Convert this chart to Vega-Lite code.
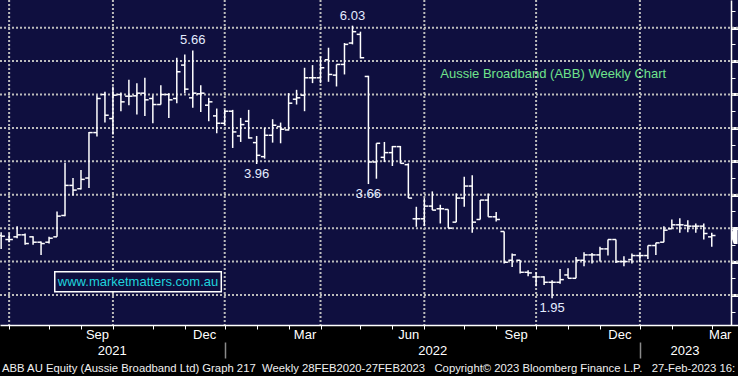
{
  "$schema": "https://vega.github.io/schema/vega-lite/v6.json",
  "width": 738,
  "height": 325,
  "autosize": {"type": "none"},
  "padding": {"left": 0, "top": 0, "right": 0, "bottom": 51},
  "background": "#000000",
  "title": {
    "text": "ABB AU Equity (Aussie Broadband Ltd) Graph 217\u00a0\u00a0Weekly 28FEB2020-27FEB2023\u00a0\u00a0\u00a0Copyright\u00a9 2023 Bloomberg Finance L.P.\u00a0\u00a0\u00a027-Feb-2023 16:",
    "orient": "bottom", "anchor": "start", "frame": "group", "offset": 4, "dx": 2,
    "font": "Liberation Sans", "fontSize": 11.3, "fontWeight": "normal", "color": "#f0f0f0"
  },
  "datasets": {
    "ohlc": [
      {"d":"2021-06-25","o":2.89,"h":2.94,"l":2.69,"c":2.88},
      {"d":"2021-07-02","o":2.83,"h":2.92,"l":2.79,"c":2.83},
      {"d":"2021-07-09","o":2.87,"h":3.03,"l":2.85,"c":2.90},
      {"d":"2021-07-16","o":2.90,"h":2.92,"l":2.75,"c":2.77},
      {"d":"2021-07-23","o":2.87,"h":2.88,"l":2.75,"c":2.79},
      {"d":"2021-07-30","o":2.79,"h":2.80,"l":2.60,"c":2.77},
      {"d":"2021-08-06","o":2.79,"h":2.87,"l":2.77,"c":2.85},
      {"d":"2021-08-13","o":2.87,"h":3.25,"l":2.87,"c":3.18},
      {"d":"2021-08-20","o":3.19,"h":3.98,"l":3.18,"c":3.64},
      {"d":"2021-08-27","o":3.64,"h":3.75,"l":3.49,"c":3.57},
      {"d":"2021-09-03","o":3.59,"h":3.87,"l":3.58,"c":3.73},
      {"d":"2021-09-10","o":3.75,"h":4.44,"l":3.60,"c":4.43},
      {"d":"2021-09-17","o":4.43,"h":4.99,"l":4.37,"c":4.94},
      {"d":"2021-09-24","o":5.00,"h":5.04,"l":4.58,"c":4.69},
      {"d":"2021-10-01","o":4.64,"h":5.12,"l":4.40,"c":4.99},
      {"d":"2021-10-08","o":5.00,"h":5.03,"l":4.75,"c":4.89},
      {"d":"2021-10-15","o":4.975,"h":5.22,"l":4.84,"c":4.975},
      {"d":"2021-10-22","o":4.98,"h":5.17,"l":4.70,"c":5.02},
      {"d":"2021-10-29","o":5.02,"h":5.25,"l":4.68,"c":4.92},
      {"d":"2021-11-05","o":4.94,"h":4.99,"l":4.57,"c":4.85},
      {"d":"2021-11-12","o":4.85,"h":5.14,"l":4.85,"c":5.00},
      {"d":"2021-11-19","o":5.00,"h":5.02,"l":4.65,"c":4.92},
      {"d":"2021-11-26","o":4.94,"h":5.55,"l":4.87,"c":5.34},
      {"d":"2021-12-03","o":5.44,"h":5.60,"l":5.02,"c":5.08},
      {"d":"2021-12-10","o":4.95,"h":5.66,"l":4.80,"c":5.02},
      {"d":"2021-12-17","o":5.01,"h":5.14,"l":4.74,"c":5.02},
      {"d":"2021-12-24","o":4.84,"h":4.95,"l":4.60,"c":4.89},
      {"d":"2021-12-31","o":4.68,"h":4.79,"l":4.42,"c":4.57},
      {"d":"2022-01-07","o":4.57,"h":4.77,"l":4.54,"c":4.75},
      {"d":"2022-01-14","o":4.75,"h":4.77,"l":4.20,"c":4.44},
      {"d":"2022-01-21","o":4.38,"h":4.65,"l":4.29,"c":4.55},
      {"d":"2022-01-28","o":4.60,"h":4.77,"l":4.34,"c":4.35},
      {"d":"2022-02-04","o":4.28,"h":4.38,"l":3.96,"c":4.09},
      {"d":"2022-02-11","o":4.07,"h":4.50,"l":4.04,"c":4.39},
      {"d":"2022-02-18","o":4.39,"h":4.63,"l":4.28,"c":4.54},
      {"d":"2022-02-25","o":4.52,"h":4.58,"l":4.27,"c":4.48},
      {"d":"2022-03-04","o":4.47,"h":5.02,"l":4.46,"c":4.87},
      {"d":"2022-03-11","o":4.93,"h":5.07,"l":4.85,"c":4.95},
      {"d":"2022-03-18","o":4.99,"h":5.40,"l":4.75,"c":5.25},
      {"d":"2022-03-25","o":5.25,"h":5.44,"l":5.17,"c":5.25},
      {"d":"2022-04-01","o":5.25,"h":5.57,"l":5.17,"c":5.40},
      {"d":"2022-04-08","o":5.52,"h":5.70,"l":5.19,"c":5.30},
      {"d":"2022-04-15","o":5.29,"h":5.45,"l":5.12,"c":5.45},
      {"d":"2022-04-22","o":5.45,"h":5.77,"l":5.30,"c":5.75},
      {"d":"2022-04-29","o":5.77,"h":6.03,"l":5.75,"c":5.94},
      {"d":"2022-05-06","o":5.90,"h":5.94,"l":5.54,"c":5.55},
      {"d":"2022-05-13","o":5.27,"h":5.28,"l":3.66,"c":3.99},
      {"d":"2022-05-20","o":3.99,"h":4.27,"l":3.74,"c":4.27},
      {"d":"2022-05-27","o":4.06,"h":4.29,"l":3.99,"c":4.13},
      {"d":"2022-06-03","o":4.13,"h":4.23,"l":3.93,"c":4.22},
      {"d":"2022-06-10","o":4.22,"h":4.23,"l":3.97,"c":3.97},
      {"d":"2022-06-17","o":3.95,"h":3.97,"l":3.45,"c":3.45},
      {"d":"2022-06-24","o":3.14,"h":3.32,"l":3.02,"c":3.14},
      {"d":"2022-07-01","o":3.14,"h":3.45,"l":3.03,"c":3.33},
      {"d":"2022-07-08","o":3.33,"h":3.55,"l":3.27,"c":3.27},
      {"d":"2022-07-15","o":3.29,"h":3.35,"l":3.07,"c":3.29},
      {"d":"2022-07-22","o":3.28,"h":3.28,"l":3.00,"c":3.00},
      {"d":"2022-07-29","o":3.09,"h":3.52,"l":3.09,"c":3.45},
      {"d":"2022-08-05","o":3.45,"h":3.77,"l":3.32,"c":3.63},
      {"d":"2022-08-12","o":3.63,"h":3.79,"l":2.93,"c":3.09},
      {"d":"2022-08-19","o":3.13,"h":3.42,"l":3.13,"c":3.42},
      {"d":"2022-08-26","o":3.42,"h":3.52,"l":3.17,"c":3.17},
      {"d":"2022-09-02","o":3.17,"h":3.24,"l":3.10,"c":3.13},
      {"d":"2022-09-09","o":2.95,"h":2.95,"l":2.47,"c":2.49},
      {"d":"2022-09-16","o":2.52,"h":2.62,"l":2.42,"c":2.60},
      {"d":"2022-09-23","o":2.52,"h":2.52,"l":2.32,"c":2.34},
      {"d":"2022-09-30","o":2.34,"h":2.37,"l":2.28,"c":2.33},
      {"d":"2022-10-07","o":2.27,"h":2.34,"l":2.13,"c":2.27},
      {"d":"2022-10-14","o":2.27,"h":2.28,"l":2.15,"c":2.19},
      {"d":"2022-10-21","o":2.19,"h":2.22,"l":1.95,"c":2.19},
      {"d":"2022-10-28","o":2.19,"h":2.39,"l":2.17,"c":2.23},
      {"d":"2022-11-04","o":2.30,"h":2.40,"l":2.25,"c":2.25},
      {"d":"2022-11-11","o":2.25,"h":2.57,"l":2.25,"c":2.52},
      {"d":"2022-11-18","o":2.52,"h":2.64,"l":2.43,"c":2.60},
      {"d":"2022-11-25","o":2.60,"h":2.63,"l":2.47,"c":2.60},
      {"d":"2022-12-02","o":2.60,"h":2.72,"l":2.50,"c":2.69},
      {"d":"2022-12-09","o":2.69,"h":2.83,"l":2.59,"c":2.83},
      {"d":"2022-12-16","o":2.83,"h":2.83,"l":2.48,"c":2.50},
      {"d":"2022-12-23","o":2.50,"h":2.58,"l":2.43,"c":2.50},
      {"d":"2022-12-30","o":2.53,"h":2.62,"l":2.47,"c":2.59},
      {"d":"2023-01-06","o":2.59,"h":2.63,"l":2.49,"c":2.59},
      {"d":"2023-01-13","o":2.59,"h":2.74,"l":2.54,"c":2.74},
      {"d":"2023-01-20","o":2.74,"h":2.78,"l":2.60,"c":2.78},
      {"d":"2023-01-27","o":2.79,"h":3.03,"l":2.79,"c":2.97},
      {"d":"2023-02-03","o":2.99,"h":3.13,"l":2.99,"c":3.05},
      {"d":"2023-02-10","o":3.05,"h":3.15,"l":2.93,"c":3.05},
      {"d":"2023-02-17","o":3.04,"h":3.12,"l":2.94,"c":3.03},
      {"d":"2023-02-24","o":3.03,"h":3.07,"l":2.93,"c":3.03},
      {"d":"2023-03-03","o":3.03,"h":3.07,"l":2.83,"c":2.92},
      {"d":"2023-03-10","o":2.87,"h":2.93,"l":2.72,"c":2.89}
    ]
  },
  "layer": [
    {
      "data": {"values": [{"g": 2}, {"g": 2.5}, {"g": 3}, {"g": 3.5}, {"g": 4}, {"g": 4.5}, {"g": 5}, {"g": 5.5}, {"g": 6}]},
      "mark": {"type": "rule", "color": "#bcbcbc", "strokeWidth": 2, "strokeDash": [2, 2]},
      "encoding": {
        "y": {
          "field": "g", "type": "quantitative",
          "scale": {"domain": [1.551, 6.414], "nice": false, "zero": false},
          "axis": null
        }
      }
    },
    {
      "data": {"values": [{"q": "2021-07-02"}, {"q": "2021-10-01"}, {"q": "2022-01-07"}, {"q": "2022-04-01"}, {"q": "2022-07-01"}, {"q": "2022-10-07"}, {"q": "2023-01-06"}]},
      "mark": {"type": "rule", "color": "#bcbcbc", "strokeWidth": 2, "strokeDash": [2, 2]},
      "encoding": {
        "x": {
          "field": "q", "type": "temporal",
          "scale": {"type": "utc", "domain": [{"year": 2021, "month": 6, "date": 24, "utc": true}, {"year": 2023, "month": 4, "date": 2, "utc": true}]},
          "axis": null
        }
      }
    },
    {
      "data": {"name": "ohlc"},
      "mark": {"type": "rule", "color": "#ffffff", "strokeWidth": 1.5},
      "encoding": {
        "x": {
          "field": "d", "type": "temporal",
          "axis": {
            "orient": "bottom",
            "values": [
              {"year": 2021, "month": 7, "date": 2, "utc": true},
              {"year": 2021, "month": 8, "date": 6, "utc": true},
              {"year": 2021, "month": 9, "date": 3, "utc": true},
              {"year": 2021, "month": 10, "date": 1, "utc": true},
              {"year": 2021, "month": 11, "date": 5, "utc": true},
              {"year": 2021, "month": 12, "date": 3, "utc": true},
              {"year": 2022, "month": 1, "date": 7, "utc": true},
              {"year": 2022, "month": 2, "date": 4, "utc": true},
              {"year": 2022, "month": 3, "date": 4, "utc": true},
              {"year": 2022, "month": 4, "date": 1, "utc": true},
              {"year": 2022, "month": 5, "date": 6, "utc": true},
              {"year": 2022, "month": 6, "date": 3, "utc": true},
              {"year": 2022, "month": 7, "date": 1, "utc": true},
              {"year": 2022, "month": 8, "date": 5, "utc": true},
              {"year": 2022, "month": 9, "date": 2, "utc": true},
              {"year": 2022, "month": 10, "date": 7, "utc": true},
              {"year": 2022, "month": 11, "date": 4, "utc": true},
              {"year": 2022, "month": 12, "date": 2, "utc": true},
              {"year": 2023, "month": 1, "date": 6, "utc": true},
              {"year": 2023, "month": 2, "date": 3, "utc": true},
              {"year": 2023, "month": 3, "date": 10, "utc": true}
            ],
            "labels": false, "grid": false, "ticks": true, "tickColor": "#ffffff", "tickSize": 4, "tickWidth": 1,
            "domain": true, "domainColor": "#ffffff", "domainWidth": 1.5, "title": null
          }
        },
        "y": {
          "field": "h", "type": "quantitative",
          "axis": {
            "orient": "right", "offset": -7, "values": [2, 2.5, 3, 3.5, 4, 4.5, 5, 5.5, 6],
            "labels": false, "grid": false,
            "ticks": true, "tickColor": "#ffffff", "tickSize": 7, "tickWidth": 3,
            "domain": true, "domainColor": "#ffffff", "domainWidth": 1.5, "title": null
          }
        },
        "y2": {"field": "l"}
      }
    },
    {
      "data": {"name": "ohlc"},
      "mark": {"type": "point", "shape": "M-1,0L0,0", "filled": false, "stroke": "#ffffff", "strokeWidth": 1.5, "size": 56, "opacity": 1},
      "encoding": {
        "x": {"field": "d", "type": "temporal", "axis": null},
        "y": {
          "field": "o", "type": "quantitative",
          "axis": {
            "orient": "right", "offset": -7, "values": [1.75, 2.25, 2.75, 3.25, 3.75, 4.25, 4.75, 5.25, 5.75, 6.25],
            "labels": false, "grid": false, "domain": false,
            "ticks": true, "tickColor": "#ffffff", "tickSize": 4, "tickWidth": 1, "title": null
          }
        }
      }
    },
    {
      "data": {"name": "ohlc"},
      "mark": {"type": "point", "shape": "M0,0L1,0", "filled": false, "stroke": "#ffffff", "strokeWidth": 1.5, "size": 56, "opacity": 1},
      "encoding": {
        "x": {
          "field": "d", "type": "temporal",
          "axis": {
            "orient": "bottom",
            "values": [
              {"year": 2021, "month": 9, "date": 17, "utc": true},
              {"year": 2021, "month": 12, "date": 20, "utc": true},
              {"year": 2022, "month": 3, "date": 18, "utc": true},
              {"year": 2022, "month": 6, "date": 17, "utc": true},
              {"year": 2022, "month": 9, "date": 19, "utc": true},
              {"year": 2022, "month": 12, "date": 19, "utc": true},
              {"year": 2023, "month": 3, "date": 17, "utc": true}
            ],
            "labelExpr": "utcFormat(datum.value, '%b')",
            "ticks": false, "domain": false, "grid": false,
            "labelColor": "#ffffff", "labelFont": "Liberation Sans", "labelFontSize": 13, "labelPadding": 3,
            "labelOverlap": false, "labelFlush": false, "labelBound": false, "title": null
          }
        },
        "y": {"field": "c", "type": "quantitative", "axis": null}
      }
    },
    {
      "data": {"values": [
        {"d": "2021-12-10", "v": 5.66, "t": "5.66"},
        {"d": "2022-04-29", "v": 6.03, "t": "6.03"}
      ]},
      "mark": {"type": "text", "color": "#e4ecff", "font": "Liberation Sans", "fontSize": 13, "align": "center", "baseline": "middle", "dy": -10},
      "encoding": {
        "x": {
          "field": "d", "type": "temporal",
          "axis": {
            "orient": "bottom",
            "values": [
              {"year": 2021, "month": 9, "date": 30, "utc": true},
              {"year": 2022, "month": 7, "date": 8, "utc": true},
              {"year": 2023, "month": 2, "date": 14, "utc": true}
            ],
            "labelExpr": "utcFormat(datum.value, '%Y')",
            "ticks": false, "domain": false, "grid": false,
            "labelColor": "#ffffff", "labelFont": "Liberation Sans", "labelFontSize": 13, "labelPadding": 19,
            "labelOverlap": false, "labelFlush": false, "labelBound": false, "title": null
          }
        },
        "y": {"field": "v", "type": "quantitative", "axis": null},
        "text": {"field": "t"}
      }
    },
    {
      "data": {"values": [
        {"d": "2022-02-04", "v": 3.96, "t": "3.96"},
        {"d": "2022-05-13", "v": 3.66, "t": "3.66"},
        {"d": "2022-10-21", "v": 1.95, "t": "1.95"}
      ]},
      "mark": {"type": "text", "color": "#e4ecff", "font": "Liberation Sans", "fontSize": 13, "align": "center", "baseline": "middle", "dy": 10},
      "encoding": {
        "x": {
          "field": "d", "type": "temporal",
          "axis": {
            "orient": "bottom",
            "values": [
              {"year": 2022, "month": 1, "date": 7, "utc": true},
              {"year": 2023, "month": 1, "date": 6, "utc": true}
            ],
            "offset": 17, "labels": false, "ticks": true, "tickSize": 16, "tickColor": "#8a8a8a", "tickWidth": 1.5,
            "domain": false, "grid": false, "title": null
          }
        },
        "y": {"field": "v", "type": "quantitative", "axis": null},
        "text": {"field": "t"}
      }
    },
    {
      "data": {"values": [{"d": "2022-10-22", "v": 5.31, "t": "Aussie Broadband (ABB) Weekly Chart"}]},
      "mark": {"type": "text", "color": "#6fe38c", "font": "Liberation Sans", "fontSize": 13, "align": "center", "baseline": "middle"},
      "encoding": {
        "x": {"field": "d", "type": "temporal", "axis": null},
        "y": {"field": "v", "type": "quantitative", "axis": null},
        "text": {"field": "t"}
      }
    },
    {
      "data": {"values": [{"d": "2021-08-11", "d2": "2022-01-04", "v": 2.349, "v2": 2.05}]},
      "mark": {"type": "rect", "fill": "#0f0f3f", "stroke": "#ffffff", "strokeWidth": 1.5},
      "encoding": {
        "x": {"field": "d", "type": "temporal", "axis": null},
        "x2": {"field": "d2"},
        "y": {"field": "v", "type": "quantitative", "axis": null},
        "y2": {"field": "v2"}
      }
    },
    {
      "data": {"values": [{"d": "2021-10-23", "v": 2.19, "t": "www.marketmatters.com.au"}]},
      "mark": {"type": "text", "color": "#1fd3dd", "font": "Liberation Sans", "fontSize": 13, "align": "center", "baseline": "middle"},
      "encoding": {
        "x": {"field": "d", "type": "temporal", "axis": null},
        "y": {"field": "v", "type": "quantitative", "axis": null},
        "text": {"field": "t"}
      }
    },
    {
      "data": {"values": [{"d": "2023-03-30", "v": 2.89}]},
      "mark": {"type": "point", "shape": "M-0.35,-0.3L-0.1,-1L0.35,-1L0.35,1L-0.1,1L-0.35,0.3Z", "filled": true, "fill": "#ffffff", "size": 289, "opacity": 1, "strokeWidth": 0},
      "encoding": {
        "x": {"field": "d", "type": "temporal", "axis": null},
        "y": {"field": "v", "type": "quantitative", "axis": null}
      }
    }
  ],
  "resolve": {"axis": {"x": "independent", "y": "independent"}},
  "config": {
    "view": {"fill": "#0f0f3f", "stroke": null},
    "text": {"font": "Liberation Sans"}
  }
}
